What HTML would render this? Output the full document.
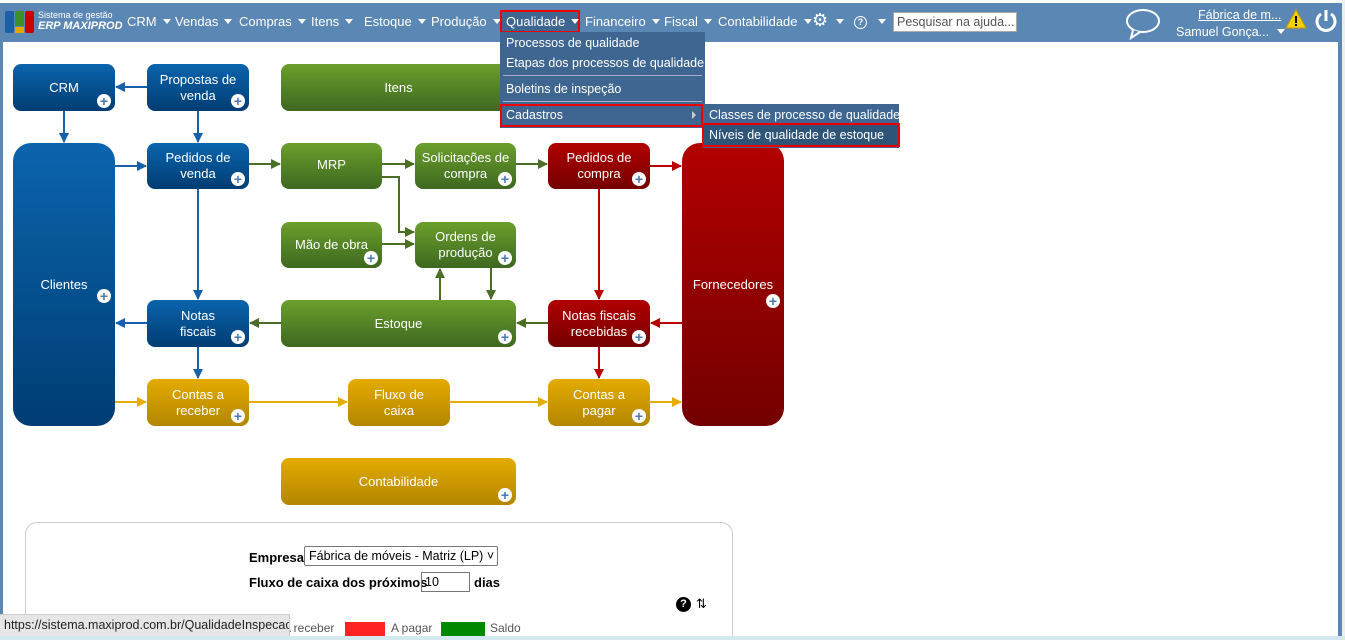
<!DOCTYPE html>
<html style="width:1345px;height:640px;overflow:hidden"><head><meta charset="utf-8">
<style>
*{margin:0;padding:0;box-sizing:border-box}
body{width:1345px;height:640px;overflow:hidden;background:#fff;font-family:"Liberation Sans",Arial,sans-serif;position:relative;white-space:nowrap}
.hdr{position:absolute;left:0;top:3px;width:1342px;height:39px;background:#5b87b5}
.lb{position:absolute;left:0;top:3px;width:3px;height:634px;background:#5b87b5}
.rb{position:absolute;left:1338px;top:3px;width:4px;height:634px;background:#5b87b5}
.rg{position:absolute;left:1342px;top:0;width:3px;height:640px;background:#eee}
.bot{position:absolute;left:0;top:636px;width:1345px;height:4px;background:#d4e8f0;z-index:5}
.m{position:absolute;top:14px;color:#fff;font-size:13px;font-family:"Liberation Sans",sans-serif}
.car{display:inline-block;width:0;height:0;border-left:4px solid transparent;border-right:4px solid transparent;border-top:5px solid #fff;margin-left:6px;vertical-align:2px}
.n{position:absolute;color:#fff;font-size:13px;text-align:center;display:flex;align-items:center;justify-content:center;line-height:16px;border-radius:8px}
.b{background:linear-gradient(#0b64ad,#003d73)}
.g{background:linear-gradient(#6b9f2c,#3e6820)}
.r{background:linear-gradient(#b20000,#730000)}
.y{background:linear-gradient(#e4ab00,#b28600)}
.p{position:absolute;right:4px;bottom:3px;width:14px;height:14px;border-radius:50%;background:#fff;color:#4a78b0;font-size:14px;font-weight:bold;line-height:14px;text-align:center}
.dd{position:absolute;background:#3f6690;color:#fff;font-size:12.5px;font-family:"Liberation Sans",sans-serif}
.dd div{position:absolute;left:6px}
#menu{position:absolute;left:0;top:0;z-index:10}
</style></head><body>
<div class="hdr"></div><div class="lb"></div><div class="rb"></div><div class="rg"></div><div class="bot"></div>
<div style="position:absolute;left:5px;top:11px;width:9px;height:22px;background:#1b5fa8;border-radius:2px"></div>
<div style="position:absolute;left:15px;top:11px;width:9px;height:15px;background:#3f8f2a"></div>
<div style="position:absolute;left:15px;top:27px;width:9px;height:6px;background:#e6a800"></div>
<div style="position:absolute;left:25px;top:11px;width:9px;height:22px;background:#c00;border-radius:2px"></div>
<div style="position:absolute;left:38px;top:10px;color:#fff;font-size:9px">Sistema de gestão</div>
<div style="position:absolute;left:38px;top:20px;color:#fff;font-size:11px;font-weight:bold;font-style:italic">ERP MAXIPROD</div>
<div class="m" style="left:127px">CRM<span class="car"></span></div>
<div class="m" style="left:175px">Vendas<span class="car"></span></div>
<div class="m" style="left:239px">Compras<span class="car"></span></div>
<div class="m" style="left:311px">Itens<span class="car"></span></div>
<div class="m" style="left:364px">Estoque<span class="car"></span></div>
<div class="m" style="left:431px">Produção<span class="car"></span></div>
<div class="m" style="left:585px">Financeiro<span class="car"></span></div>
<div class="m" style="left:664px">Fiscal<span class="car"></span></div>
<div class="m" style="left:718px">Contabilidade<span class="car"></span></div>
<div class="m" style="left:812px;top:10px;font-size:18px">⚙</div>
<div class="m" style="left:830px"><span class="car"></span></div>
<div style="position:absolute;left:854px;top:16px;width:13px;height:13px;border:1.5px solid #fff;border-radius:50%;color:#fff;font-size:9px;font-weight:bold;text-align:center;line-height:10px">?</div>
<div class="m" style="left:872px"><span class="car"></span></div>
<div style="position:absolute;left:893px;top:12px;width:124px;height:20px;background:#fff;border:1px solid #aaa;font-size:12.5px;color:#555;padding:2px 3px;overflow:hidden">Pesquisar na ajuda...</div>
<svg style="position:absolute;left:1124px;top:8px" width="38" height="32"><ellipse cx="19" cy="13" rx="16" ry="11" fill="none" stroke="#fff" stroke-width="2"/><path d="M9 22 L7 30 L16 24" fill="#5b87b5" stroke="#fff" stroke-width="2"/></svg>
<div style="position:absolute;left:1198px;top:8px;color:#fff;font-size:12.5px;text-decoration:underline">Fábrica de m...</div>
<div style="position:absolute;left:1176px;top:25px;color:#fff;font-size:12.5px">Samuel Gonça...<span class="car" style="margin-left:8px"></span></div>
<svg style="position:absolute;left:1285px;top:9px" width="22" height="20"><path d="M11 1 L21 19 L1 19Z" fill="#f5d000" stroke="#c90" stroke-width="1"/><rect x="10" y="7" width="2" height="7" fill="#000"/><rect x="10" y="15" width="2" height="2" fill="#000"/></svg>
<svg style="position:absolute;left:1313px;top:8px" width="26" height="26"><path d="M8 6 A9 9 0 1 0 18 6" fill="none" stroke="#fff" stroke-width="3"/><line x1="13" y1="2" x2="13" y2="13" stroke="#fff" stroke-width="3"/></svg>

<svg style="position:absolute;left:0;top:0" width="800" height="520">
<defs>
<marker id="ab" markerWidth="10" markerHeight="10" refX="9" refY="5" orient="auto" markerUnits="userSpaceOnUse"><path d="M0 0L10 5L0 10Z" fill="#1560a8"/></marker>
<marker id="ag" markerWidth="10" markerHeight="10" refX="9" refY="5" orient="auto" markerUnits="userSpaceOnUse"><path d="M0 0L10 5L0 10Z" fill="#4a6e26"/></marker>
<marker id="ar" markerWidth="10" markerHeight="10" refX="9" refY="5" orient="auto" markerUnits="userSpaceOnUse"><path d="M0 0L10 5L0 10Z" fill="#b00"/></marker>
<marker id="ay" markerWidth="10" markerHeight="10" refX="9" refY="5" orient="auto" markerUnits="userSpaceOnUse"><path d="M0 0L10 5L0 10Z" fill="#e6ad00"/></marker>
</defs>
<g stroke-width="2" fill="none">
<g stroke="#1560a8">
<line x1="147" y1="87" x2="116" y2="87" marker-end="url(#ab)"/>
<line x1="64" y1="111" x2="64" y2="142" marker-end="url(#ab)"/>
<line x1="198" y1="111" x2="198" y2="142" marker-end="url(#ab)"/>
<line x1="115" y1="166" x2="146" y2="166" marker-end="url(#ab)"/>
<line x1="198" y1="189" x2="198" y2="299" marker-end="url(#ab)"/>
<line x1="147" y1="323" x2="116" y2="323" marker-end="url(#ab)"/>
<line x1="198" y1="347" x2="198" y2="378" marker-end="url(#ab)"/>
</g>
<g stroke="#4a6e26">
<line x1="249" y1="164" x2="280" y2="164" marker-end="url(#ag)"/>
<line x1="382" y1="164" x2="414" y2="164" marker-end="url(#ag)"/>
<polyline points="382,177 399,177 399,232 414,232" marker-end="url(#ag)"/>
<line x1="382" y1="244" x2="414" y2="244" marker-end="url(#ag)"/>
<line x1="516" y1="164" x2="547" y2="164" marker-end="url(#ag)"/>
<line x1="440" y1="300" x2="440" y2="269" marker-end="url(#ag)"/>
<line x1="491" y1="268" x2="491" y2="299" marker-end="url(#ag)"/>
<line x1="548" y1="323" x2="517" y2="323" marker-end="url(#ag)"/>
<line x1="281" y1="323" x2="250" y2="323" marker-end="url(#ag)"/>
</g>
<g stroke="#b00">
<line x1="650" y1="166" x2="681" y2="166" marker-end="url(#ar)"/>
<line x1="599" y1="189" x2="599" y2="299" marker-end="url(#ar)"/>
<line x1="682" y1="323" x2="651" y2="323" marker-end="url(#ar)"/>
<line x1="599" y1="347" x2="599" y2="378" marker-end="url(#ar)"/>
</g>
<g stroke="#e6ad00">
<line x1="115" y1="402" x2="146" y2="402" marker-end="url(#ay)"/>
<line x1="249" y1="402" x2="347" y2="402" marker-end="url(#ay)"/>
<line x1="450" y1="402" x2="547" y2="402" marker-end="url(#ay)"/>
<line x1="650" y1="402" x2="681" y2="402" marker-end="url(#ay)"/>
</g>
</g></svg>

<div class="n b" style="left:13px;top:64px;width:102px;height:47px">CRM<span class="p">+</span></div>
<div class="n b" style="left:147px;top:64px;width:102px;height:47px">Propostas de<br>venda<span class="p">+</span></div>
<div class="n g" style="left:281px;top:64px;width:235px;height:47px">Itens</div>
<div class="n b" style="left:13px;top:143px;width:102px;height:283px;border-radius:18px">Clientes<span class="p" style="bottom:123px">+</span></div>
<div class="n b" style="left:147px;top:143px;width:102px;height:46px">Pedidos de<br>venda<span class="p">+</span></div>
<div class="n g" style="left:281px;top:143px;width:101px;height:46px;padding-bottom:2px">MRP</div>
<div class="n g" style="left:415px;top:143px;width:101px;height:46px">Solicitações de<br>compra<span class="p">+</span></div>
<div class="n r" style="left:548px;top:143px;width:102px;height:46px">Pedidos de<br>compra<span class="p">+</span></div>
<div class="n r" style="left:682px;top:143px;width:102px;height:283px;border-radius:18px">Fornecedores<span class="p" style="bottom:118px">+</span></div>
<div class="n g" style="left:281px;top:222px;width:101px;height:46px">Mão de obra<span class="p">+</span></div>
<div class="n g" style="left:415px;top:222px;width:101px;height:46px">Ordens de<br>produção<span class="p">+</span></div>
<div class="n b" style="left:147px;top:300px;width:102px;height:47px">Notas<br>fiscais<span class="p">+</span></div>
<div class="n g" style="left:281px;top:300px;width:235px;height:47px">Estoque<span class="p">+</span></div>
<div class="n r" style="left:548px;top:300px;width:102px;height:47px">Notas fiscais<br>recebidas<span class="p">+</span></div>
<div class="n y" style="left:147px;top:379px;width:102px;height:47px">Contas a<br>receber<span class="p">+</span></div>
<div class="n y" style="left:348px;top:379px;width:102px;height:47px">Fluxo de<br>caixa</div>
<div class="n y" style="left:548px;top:379px;width:102px;height:47px">Contas a<br>pagar<span class="p">+</span></div>
<div class="n y" style="left:281px;top:458px;width:235px;height:47px">Contabilidade<span class="p">+</span></div>

<div id="menu">
<div style="position:absolute;left:500px;top:10px;width:80px;height:23px;border:2px solid #e00;background:#3f6690"></div>
<div class="m" style="left:506px">Qualidade<span class="car"></span></div>
<div class="dd" style="left:500px;top:32px;width:205px;height:96px">
<div style="top:4px">Processos de qualidade</div>
<div style="top:24px">Etapas dos processos de qualidade</div>
<div style="top:43px;left:3px;width:199px;height:1px;background:#aac"></div>
<div style="top:50px">Boletins de inspeção</div>
<div style="top:69px;left:3px;width:199px;height:1px;background:#aac"></div>
</div>
<div style="position:absolute;left:500px;top:104px;width:203px;height:23px;border:2px solid #e00;background:#3f6690"></div>
<div style="position:absolute;left:506px;top:108px;color:#fff;font-size:12.5px">Cadastros</div>
<div style="position:absolute;left:692px;top:111px;border-top:4px solid transparent;border-bottom:4px solid transparent;border-left:4px solid #ccc"></div>
<div class="dd" style="left:703px;top:104px;width:196px;height:44px">
<div style="top:4px">Classes de processo de qualidade</div>
</div>
<div style="position:absolute;left:702px;top:123px;width:198px;height:24px;border:2px solid #e00;background:#2e5478"></div>
<div style="position:absolute;left:709px;top:128px;color:#fff;font-size:12.5px">Níveis de qualidade de estoque</div>
</div>

<div style="position:absolute;left:25px;top:522px;width:708px;height:114px;border:1px solid #ccc;border-bottom:none;border-radius:12px 12px 0 0"></div>
<div style="position:absolute;left:249px;top:550px;font-size:13px;font-weight:bold">Empresa</div>
<div style="position:absolute;left:304px;top:546px;width:194px;height:20px;border:1px solid #777;border-radius:2px;font-size:12.5px;padding:2px 4px;overflow:hidden">Fábrica de móveis - Matriz (LP) ˅</div>
<div style="position:absolute;left:249px;top:575px;font-size:13px;font-weight:bold">Fluxo de caixa dos próximos</div>
<div style="position:absolute;left:421px;top:572px;width:49px;height:20px;border:1px solid #777;font-size:12.5px;padding:2px 3px">10</div>
<div style="position:absolute;left:474px;top:575px;font-size:13px;font-weight:bold">dias</div>
<div style="position:absolute;left:676px;top:597px;width:15px;height:15px;border-radius:50%;background:#000;color:#fff;font-size:11px;font-weight:bold;text-align:center;line-height:15px">?</div>
<div style="position:absolute;left:696px;top:596px;font-size:13px">⇅</div>
<div style="position:absolute;left:283px;top:621px;font-size:12px;color:#555">A receber</div>
<div style="position:absolute;left:345px;top:622px;width:40px;height:14px;background:#f22"></div>
<div style="position:absolute;left:391px;top:621px;font-size:12px;color:#555">A pagar</div>
<div style="position:absolute;left:441px;top:622px;width:44px;height:14px;background:#080"></div>
<div style="position:absolute;left:490px;top:621px;font-size:12px;color:#555">Saldo</div>
<div style="position:absolute;left:0;top:614px;width:290px;height:22px;background:#e6e6e6;border-top:1px solid #ccc;border-right:1px solid #ccc;font-size:12.5px;color:#222;padding:3px 4px;overflow:hidden">https://sistema.maxiprod.com.br/QualidadeInspecao</div>
</body></html>
